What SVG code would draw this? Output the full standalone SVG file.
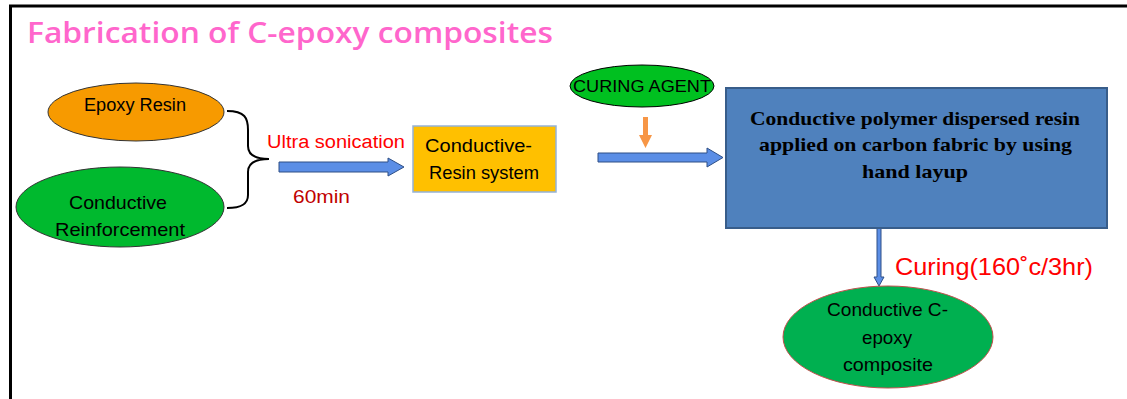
<svg xmlns="http://www.w3.org/2000/svg" width="1127" height="399" viewBox="0 0 1127 399">
<style>
.t{font-family:"Liberation Sans",Arial,sans-serif;fill:#000}
.red{font-family:"Liberation Sans",Arial,sans-serif;fill:#FF0000}
.serif{font-family:"Liberation Serif","Times New Roman",serif;font-weight:bold;fill:#000}
.barrow{fill:#5B8EE6;stroke:#2E4F86;stroke-width:1}
</style>
<rect x="0" y="0" width="1127" height="399" fill="#fff"/>
<g id="frame">
<path d="M10.5,399 V6 H1127" fill="none" stroke="#000" stroke-width="3"/>
</g>
<g id="title">
<text x="27" y="43" font-family="'Open Sans','Liberation Sans',sans-serif" font-size="28" font-weight="600" fill="#FF66CC" textLength="526" lengthAdjust="spacingAndGlyphs">Fabrication of C-epoxy composites</text>
</g>
<g id="epoxy-resin">
<ellipse cx="136" cy="112" rx="88" ry="29" fill="#F79A00" stroke="#333" stroke-width="1"/>
<text class="t" x="84" y="111" font-size="18" textLength="102" lengthAdjust="spacingAndGlyphs">Epoxy Resin</text>
</g>
<g id="conductive-reinforcement">
<ellipse cx="120" cy="207" rx="104" ry="40" fill="#00B92E" stroke="#333" stroke-width="1"/>
<text class="t" x="69" y="209" font-size="19" textLength="98" lengthAdjust="spacingAndGlyphs">Conductive</text>
<text class="t" x="55" y="236" font-size="19" textLength="130" lengthAdjust="spacingAndGlyphs">Reinforcement</text>
</g>
<g id="connectors">
<path d="M227,111 C245,111 248,118 248,130 V146 C248,155 255,159 269,159 C255,159 248,163 248,172 V195 C248,203 243,208 227,208" fill="none" stroke="#000" stroke-width="2"/>
<path class="barrow" d="M279,162 H388 V158 L404,167 L388,176 V172 H279 Z"/>
<path class="barrow" d="M598,153 H707 V148 L723,157.5 L707,167 V162 H598 Z"/>
<path d="M643,117 H648 V135 H652 L645.5,148 L639,135 H643 Z" fill="#F79646"/>
<path class="barrow" d="M877,228 H881 V277 H884 L879,286 L874,277 H877 Z"/>
</g>
<g id="labels">
<text class="red" x="267" y="148" font-size="18" textLength="138" lengthAdjust="spacingAndGlyphs">Ultra sonication</text>
<text x="293" y="203" font-family="'Liberation Sans',Arial,sans-serif" font-size="18" fill="#C00000" textLength="57" lengthAdjust="spacingAndGlyphs">60min</text>
<text class="red" x="895" y="275" font-size="24" textLength="198" lengthAdjust="spacingAndGlyphs">Curing(160˚c/3hr)</text>
</g>
<g id="conductive-resin-system">
<rect x="413" y="126" width="143" height="66" fill="#FFC000" stroke="#95B3D7" stroke-width="1.5"/>
<text class="t" x="425" y="152" font-size="19" textLength="107" lengthAdjust="spacingAndGlyphs">Conductive-</text>
<text class="t" x="429" y="179" font-size="19" textLength="110" lengthAdjust="spacingAndGlyphs">Resin system</text>
</g>
<g id="curing-agent">
<ellipse cx="642" cy="86" rx="72" ry="21" fill="#00C020" stroke="#000" stroke-width="1"/>
<text class="t" x="573" y="92" font-size="17" textLength="138" lengthAdjust="spacingAndGlyphs">CURING AGENT</text>
</g>
<g id="hand-layup">
<rect x="726" y="88" width="381" height="140" fill="#4F81BD" stroke="#385D8A" stroke-width="2"/>
<text class="serif" x="750" y="125" font-size="19" textLength="330" lengthAdjust="spacingAndGlyphs">Conductive polymer dispersed resin</text>
<text class="serif" x="759" y="151" font-size="19" textLength="313" lengthAdjust="spacingAndGlyphs">applied on carbon fabric by using</text>
<text class="serif" x="862" y="178" font-size="19" textLength="106" lengthAdjust="spacingAndGlyphs">hand layup</text>
</g>
<g id="c-epoxy-composite">
<ellipse cx="888" cy="337" rx="105" ry="51" fill="#00B050" stroke="#C0504D" stroke-width="1"/>
<text class="t" x="827" y="316" font-size="19" textLength="121" lengthAdjust="spacingAndGlyphs">Conductive C-</text>
<text class="t" x="862" y="344" font-size="19" textLength="50" lengthAdjust="spacingAndGlyphs">epoxy</text>
<text class="t" x="843" y="371" font-size="19" textLength="90" lengthAdjust="spacingAndGlyphs">composite</text>
</g>
</svg>
